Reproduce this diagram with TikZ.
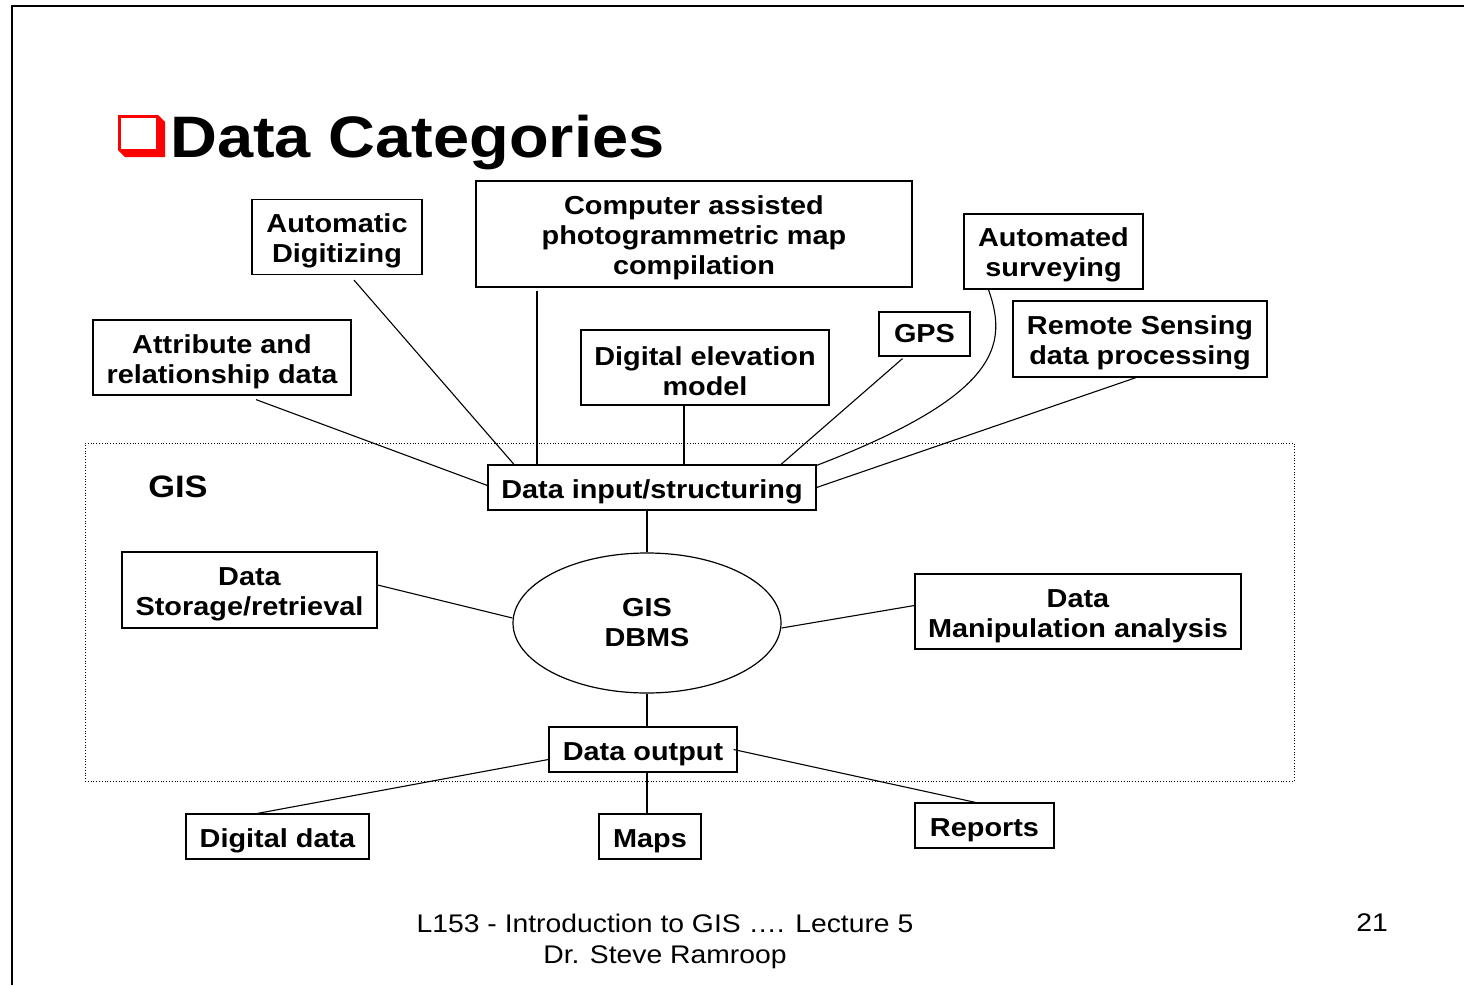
\documentclass[tikz,border=0pt]{standalone}
\usepackage{fontspec}
\setmainfont{Liberation Sans}[FakeStretch=1.11]
\usetikzlibrary{shapes.geometric,calc}
\newcommand\bs{\rule{0pt}{26.5pt}}
\begin{document}
\begin{tikzpicture}[x=1pt,y=-1pt,
  textbase/.style={align=center, inner sep=0pt, fill=white,
    font=\fontsize{26}{30}\selectfont\bfseries},
  box/.style={textbase, draw, line width=1.2pt},
  dbshape/.style={textbase, draw, line width=1.2pt, ellipse},
  conn/.style={line width=1.1pt},
  gisframe/.style={draw, dotted, line width=0.8pt, inner sep=0pt}]
\useasboundingbox (0,0) rectangle (1464,985);
% slide frame
\draw[line width=2pt] (12,985) -- (12,6) -- (1464,6);
% title checkbox
\fill[red] (118,115) -- (158,115) -- (165,122) -- (165,157) -- (125,157) -- (118,150) -- cycle;
\fill[white] (121,118) rectangle (156,149);
\node[anchor=base west, inner sep=0pt, font=\fontsize{58.5}{60}\selectfont\bfseries] (title) at (170,157) {Data Categories};
% GIS frame
\node[gisframe, minimum width=1209, minimum height=338] (gis) at (689.5,612) {};
\node[font=\fontsize{31}{34}\selectfont\bfseries, inner sep=0pt] (gislbl) at (178,487) {GIS};
% boxes
\node[box, minimum width=170, minimum height=75] (ad) at (337,237) {\bs Automatic\\Digitizing};
\node[box, minimum width=436, minimum height=106] (cp) at (694,234) {\bs Computer assisted\\photogrammetric map\\compilation};
\node[box, minimum width=179, minimum height=75] (as) at (1053.5,251.5) {\bs Automated\\surveying};
\node[box, minimum width=258, minimum height=75] (at) at (222,357.5) {\bs Attribute and\\relationship data};
\node[box, minimum width=248, minimum height=75] (de) at (705,367.5) {\bs Digital elevation\\model};
\node[box, minimum width=91, minimum height=44] (gps) at (924.5,334) {GPS};
\node[box, minimum width=254, minimum height=76] (rs) at (1140,339) {\bs Remote Sensing\\data processing};
\node[box, minimum width=328, minimum height=45] (di) at (652,487.5) {\bs Data input/structuring};
\node[box, minimum width=255, minimum height=76] (st) at (249.5,590) {\bs Data\\Storage/retrieval};
\node[dbshape, minimum width=268, minimum height=140] (db) at (647,623) {GIS\\DBMS};
\node[box, minimum width=326, minimum height=75] (dm) at (1078,611.5) {\bs Data\\Manipulation analysis};
\node[box, minimum width=188, minimum height=45] (do) at (643,749.5) {\bs Data output};
\node[box, minimum width=183, minimum height=45] (dd) at (277.5,836.5) {\bs Digital data};
\node[box, minimum width=102, minimum height=45] (mp) at (650,836.5) {\bs Maps};
\node[box, minimum width=139, minimum height=45] (rp) at (984.5,825.5) {\bs Reports};
% connectors
\draw[conn] ([xshift=17pt,yshift=-5pt]ad.south) -- ([xshift=-138pt]di.north);
\draw[conn] ([xshift=-157pt,yshift=-3pt]cp.south) -- ([xshift=-115pt]di.north);
\draw[conn] ([xshift=34pt,yshift=-4pt]at.south) -- ([yshift=2pt]di.west);
\draw[conn] ([xshift=-21pt]de.south) -- ([xshift=32pt]di.north);
\draw[conn] ([xshift=-22pt,yshift=-2pt]gps.south) -- ([xshift=129pt]di.north);
\draw[conn] ([xshift=-65pt]as.south) .. controls (1008,345) and (1000,395) .. ([yshift=-1pt]di.north east);
\draw[conn] ([xshift=-4pt]rs.south) -- (di.east);
\draw[conn] ([xshift=-5pt]di.south) -- (db.north);
\draw[conn] ([yshift=5pt]st.east) -- ([yshift=5pt]db.west);
\draw[conn] ([yshift=-5pt]db.east) -- ([yshift=6pt]dm.west);
\draw[conn] (db.south) -- ([xshift=4pt]do.north);
\draw[conn] ([yshift=-10pt]do.west) -- ([xshift=-20pt]dd.north);
\draw[conn] ([xshift=4pt]do.south) -- ([xshift=-3pt]mp.north);
\draw[conn] ([xshift=-4pt]do.east) -- ([xshift=-9pt]rp.north);
% footer
\node[align=center, inner sep=0pt, font=\fontsize{25.5}{31}\selectfont] (foot) at (665,941) {L153 - Introduction to GIS …. Lecture 5\\Dr. Steve Ramroop};
\node[inner sep=0pt, font=\fontsize{25.5}{31}\selectfont] (pg) at (1372,923) {21};
\end{tikzpicture}
\end{document}
